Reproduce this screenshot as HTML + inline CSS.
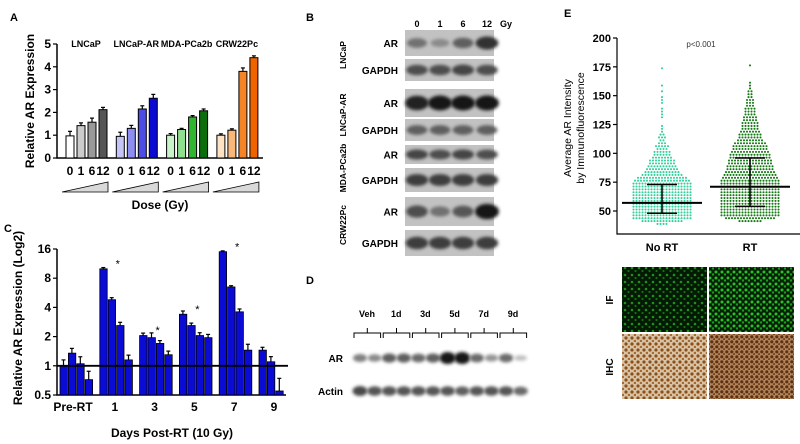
<!DOCTYPE html>
<html><head><meta charset="utf-8"><style>
html,body{margin:0;padding:0;background:#fff;}
svg{display:block;font-family:"Liberation Sans",Arial,sans-serif;}
</style></head><body>
<svg id="fig" width="800" height="444" viewBox="0 0 800 444" xmlns="http://www.w3.org/2000/svg">
<defs>
<filter id="blur1" x="-20%" y="-50%" width="140%" height="200%"><feGaussianBlur stdDeviation="1.6"/></filter>
<pattern id="ifA" width="7" height="7" patternUnits="userSpaceOnUse"><rect width="7" height="7" fill="#051a05"/><circle cx="2" cy="2" r="1.3" fill="#1f8f1f"/><circle cx="5.5" cy="5" r="1.1" fill="#157015"/></pattern>
<pattern id="ifB" width="6" height="6" patternUnits="userSpaceOnUse"><rect width="6" height="6" fill="#062006"/><circle cx="2" cy="2" r="1.5" fill="#2bbf2b"/><circle cx="5" cy="4.5" r="1.2" fill="#1e9a1e"/></pattern>
<pattern id="ihcA" width="6" height="6" patternUnits="userSpaceOnUse"><rect width="6" height="6" fill="#d9c3a5"/><circle cx="2" cy="2" r="1.6" fill="#8a4f1e"/><circle cx="5" cy="5" r="1.3" fill="#a8692f"/></pattern>
<pattern id="ihcB" width="5" height="5" patternUnits="userSpaceOnUse"><rect width="5" height="5" fill="#b08660"/><circle cx="1.8" cy="1.8" r="1.6" fill="#5e3010"/><circle cx="4.2" cy="4.2" r="1.2" fill="#7a4316"/></pattern>
</defs>
<g id="pA"></g>
<g id="pB"></g>
<g id="pC"></g>
<g id="pD"></g>
<g id="pE"></g>
</svg>
<script>
// ---------- Panel A data ----------
const aGroups = ["LNCaP","LNCaP-AR","MDA-PCa2b","CRW22Pc"];
const aDoses = ["0","1","6","12"];
const aLNCaP = [0.97,1.42,1.57,2.12];
const aLNCaPAR = [0.95,1.3,2.15,2.62];
const aMDA = [1.0,1.25,1.8,2.07];
const aCRW = [1.0,1.22,3.8,4.4];
const aErr = [[0.2,0.12,0.18,0.1],[0.18,0.13,0.14,0.17],[0.07,0.05,0.06,0.08],[0.06,0.06,0.15,0.08]];
const aTicks = [0,1,2,3,4,5];
// ---------- Panel C data ----------
const cGroups = ["Pre-RT","1","3","5","7","9"];
const cVals = [[1,1.35,1.05,0.72],[10,4.8,2.6,1.15],[2.05,1.95,1.7,1.3],[3.4,2.6,2.05,1.95],[15,6.5,3.6,1.45],[1.45,1.1,0.55]];
const cErr = [[0.15,0.12,0.18,0.22],[0.03,0.05,0.08,0.12],[0.06,0.12,0.07,0.09],[0.08,0.06,0.07,0.08],[0.02,0.03,0.07,0.15],[0.07,0.13,0.35]];
const cStar = [false,true,true,true,true,false];
const cTicks = [0.5,1,2,4,8,16];
// ---------- Panel E data (histogram counts in 2.5-unit bins from 37.5) ----------
const eGroups = ["No RT","RT"];
const eNoRT = [4,14,20,20,20,20,20,20,20,20,20,20,20,20,20,19,17,14,12,11,10,9,9,7,6,6,4,5,3,2,3,2,1,1,1,0,0,1,1,1,1,0,1,1,1,0,1,0,1,0,0,0,0,0,1];
const eRT = [0,8,17,20,20,20,20,20,20,20,20,20,20,20,20,20,19,18,17,16,16,15,15,14,14,13,12,12,11,9,8,8,7,6,6,6,5,5,4,4,4,3,3,3,2,2,2,1,1,1,0,0,0,0,0,1];
const eMean = [57,71];
const eSD = [[48,73],[54,96]];
const eTicks = [50,75,100,125,150,175,200];
// ---------- Blot band intensities ----------
const bRows = ["AR","GAPDH","AR","GAPDH","AR","GAPDH","AR","GAPDH"];
const bCells = ["LNCaP","LNCaP-AR","MDA-PCa2b","CRW22Pc"];
const bBands = [[0.5,0.35,0.6,0.85],[0.7,0.7,0.75,0.7],[0.95,1,1,1],[0.6,0.6,0.6,0.6],[0.75,0.7,0.75,0.7],[0.8,0.8,0.8,0.8],[0.7,0.5,0.65,1],[0.8,0.8,0.8,0.8]];
const dLabels = ["Veh","1d","3d","5d","7d","9d"];
const dAR = [0.5,0.45,0.65,0.65,0.6,0.65,1,1,0.6,0.4,0.6,0.2];
const dActin = [0.75,0.7,0.7,0.7,0.7,0.7,0.7,0.65,0.7,0.7,0.7,0.6];

const NS="http://www.w3.org/2000/svg";
function mk(parent,tag,attrs,txt){const e=document.createElementNS(NS,tag);for(const k in attrs)e.setAttribute(k,attrs[k]);if(txt!==undefined)e.textContent=txt;parent.appendChild(e);return e;}

// ================= PANEL A =================
(function(){
const g=document.getElementById('pA');
const yA=v=>158-v*22.8, x0=57;
let t=mk(g,'text',{x:10,y:21,'font-size':11,'font-weight':'bold'},'A');


let ax=mk(g,'path',{d:`M${x0} ${yA(5)}V158H263`,stroke:'#000','stroke-width':1.5,fill:'none'});


aTicks.forEach(v=>{
 mk(g,'line',{x1:x0-4,x2:x0,y1:yA(v),y2:yA(v),stroke:'#000','stroke-width':1.2});
 let l=mk(g,'text',{x:x0-6,y:yA(v)+4,'font-size':12,'font-weight':'bold','text-anchor':'end'},v);
 
 
});
let yt=mk(g,'text',{transform:'translate(34,101) rotate(-90)','font-size':12,'font-weight':'bold','text-anchor':'middle'},'Relative AR Expression');


const series=[aLNCaP,aLNCaPAR,aMDA,aCRW];
const cols=[["#ffffff","#cccccc","#999999","#555555"],["#c4c4f6","#8e8ef2","#4d4de6","#0a0ad2"],["#c9f3c9","#8ee08e","#2fb52f","#0b6e0b"],["#fde2c4","#f8b87a","#f48426","#f06400"]];
series.forEach((vals,gi)=>{
 const gx=66+gi*50.3;
 let gl=mk(g,'text',{x:gx+20,y:47,'font-size':9,'font-weight':'bold','text-anchor':'middle'},aGroups[gi]);
 
 
 vals.forEach((v,i)=>{
  const bx=gx+i*11, e=aErr[gi][i];
  mk(g,'line',{x1:bx+4,x2:bx+4,y1:yA(v),y2:yA(v+e),stroke:'#000','stroke-width':1.2});
  mk(g,'line',{x1:bx+2,x2:bx+6,y1:yA(v+e),y2:yA(v+e),stroke:'#000','stroke-width':1.2});
  let r=mk(g,'rect',{x:bx,y:yA(v),width:8,height:158-yA(v),fill:cols[gi][i],stroke:'#000','stroke-width':1});
  
  
  let dl=mk(g,'text',{x:bx+4,y:175,'font-size':12,'font-weight':'bold','text-anchor':'middle'},aDoses[i]);
  
  
 });
 let tri=mk(g,'path',{d:`M${gx-4} 192L${gx+42} 182V192Z`,fill:'#d9d9d9',stroke:'#000','stroke-width':0.8});
 
 
});
let xt=mk(g,'text',{x:160,y:209,'font-size':12,'font-weight':'bold','text-anchor':'middle'},'Dose (Gy)');


})();

// ================= PANEL C =================
(function(){
const g=document.getElementById('pC');
const yC=v=>395-(Math.log2(v)+1)*29.2, x0=57;
let t=mk(g,'text',{x:4,y:232,'font-size':11,'font-weight':'bold'},'C');


let ax=mk(g,'path',{d:`M${x0} ${yC(16)}V395H286`,stroke:'#000','stroke-width':1.5,fill:'none'});


cTicks.forEach(v=>{
 mk(g,'line',{x1:x0-4,x2:x0,y1:yC(v),y2:yC(v),stroke:'#000','stroke-width':1.2});
 let l=mk(g,'text',{x:x0-6,y:yC(v)+4,'font-size':12,'font-weight':'bold','text-anchor':'end'},v);
 
 
});
let yt=mk(g,'text',{transform:'translate(22,318) rotate(-90)','font-size':12,'font-weight':'bold','text-anchor':'middle'},'Relative AR Expression (Log2)');


cVals.forEach((vals,gi)=>{
 const gx=60+gi*39.8;
 vals.forEach((v,i)=>{
  const bx=gx+i*8.4, top=yC(v*(1+cErr[gi][i]));
  mk(g,'line',{x1:bx+3.5,x2:bx+3.5,y1:yC(v),y2:top,stroke:'#000','stroke-width':1.2});
  mk(g,'line',{x1:bx+1.5,x2:bx+5.5,y1:top,y2:top,stroke:'#000','stroke-width':1.2});
  let r=mk(g,'rect',{x:bx,y:yC(v),width:7.4,height:395-yC(v),fill:'#0b0bd6',stroke:'#000','stroke-width':0.8});
  
  
 });
 let gl=mk(g,'text',{x:gi===0?73:gx+15,y:411,'font-size':12,'font-weight':'bold','text-anchor':'middle'},cGroups[gi]);
 
 
 if(cStar[gi]){
  const mx=Math.max(...vals);
  let s=mk(g,'text',{x:gx+18,y:Math.min(yC(mx*1.25),yC(vals[1]*1.3))+8,'font-size':11,'text-anchor':'middle'},'*');
  
  
 }
});
let rl=mk(g,'line',{x1:x0,x2:288,y1:yC(1),y2:yC(1),stroke:'#000','stroke-width':1.8});


let xt=mk(g,'text',{x:172,y:437,'font-size':12,'font-weight':'bold','text-anchor':'middle'},'Days Post-RT (10 Gy)');


})();

// ================= PANEL B =================
(function(){
const g=document.getElementById('pB');
let t=mk(g,'text',{x:306,y:21,'font-size':11,'font-weight':'bold'},'B');


const lanes=[417,440,463,487];
["0","1","6","12","Gy"].forEach((s,i)=>{
 let l=mk(g,'text',{x:i<4?lanes[i]:506,y:27,'font-size':9,'font-weight':'bold','text-anchor':'middle'},s);
 
 
});
const rows=[[30,56],[59,81],[89,117],[119,141],[145,164],[168,192],[197,226],[230,256]];
rows.forEach((r,ri)=>{
 const h=r[1]-r[0], cy=(r[0]+r[1])/2;
 let bg=mk(g,'rect',{x:405,y:r[0],width:89,height:h,fill:'#c2c2c2'});
 
 
 bBands[ri].forEach((v,i)=>{
  const c=Math.round(200-175*v);
  let e=mk(g,'ellipse',{cx:lanes[i],cy:cy,rx:8+4*v,ry:2.5+5*v*(h/28),fill:`rgb(${c},${c},${c})`,filter:'url(#blur1)'});
  
  
 });
 let l=mk(g,'text',{x:398,y:cy+4,'font-size':10,'font-weight':'bold','text-anchor':'end'},bRows[ri]);
 
 
});
[55,115,168,225].forEach((cy,i)=>{
 let l=mk(g,'text',{transform:`translate(346,${cy}) rotate(-90)`,'font-size':8.5,'font-weight':'bold','text-anchor':'middle'},bCells[i]);
 
 
});
})();

// ================= PANEL D =================
(function(){
const g=document.getElementById('pD');
let t=mk(g,'text',{x:306,y:284,'font-size':11,'font-weight':'bold'},'D');


const lx=i=>360+i*14.6;
dLabels.forEach((s,i)=>{
 let l=mk(g,'text',{x:lx(2*i)+7,y:317,'font-size':9,'font-weight':'bold','text-anchor':'middle'},s);
 
 
 const a=lx(2*i)-6, b=lx(2*i+1)+6, m=(a+b)/2;
 let br=mk(g,'path',{d:`M${a} 338V333H${b}V338M${m} 333V328`,stroke:'#000','stroke-width':1,fill:'none'});
 
 
});
[[dAR,358,'AR'],[dActin,391,'Actin']].forEach(([arr,cy,lab])=>{
 arr.forEach((v,i)=>{
  const c=Math.round(235-215*v);
  let e=mk(g,'ellipse',{cx:lx(i),cy:cy,rx:6+2*v,ry:2+4*v,fill:`rgb(${c},${c},${c})`,filter:'url(#blur1)'});
  
  
 });
 let l=mk(g,'text',{x:343,y:cy+4,'font-size':10,'font-weight':'bold','text-anchor':'end'},lab);
 
 
});
})();

// ================= PANEL E =================
(function(){
const g=document.getElementById('pE');
const yE=v=>211-(v-50)*1.1533, x0=617;
let t=mk(g,'text',{x:564,y:17,'font-size':11,'font-weight':'bold'},'E');


let ax=mk(g,'path',{d:`M${x0} ${yE(200)}V234H800`,stroke:'#000','stroke-width':1.2,fill:'none'});


eTicks.forEach(v=>{
 mk(g,'line',{x1:x0-4,x2:x0,y1:yE(v),y2:yE(v),stroke:'#000','stroke-width':1.2});
 let l=mk(g,'text',{x:x0-6,y:yE(v)+4,'font-size':11,'font-weight':'bold','text-anchor':'end'},v);
 
 
});
let y1=mk(g,'text',{transform:'translate(571,128) rotate(-90)','font-size':10.5,'text-anchor':'middle'},'Average AR Intensity');


let y2=mk(g,'text',{transform:'translate(584,128) rotate(-90)','font-size':10.5,'text-anchor':'middle'},'by Immunofluorescence');


let p=mk(g,'text',{x:701,y:47,'font-size':8,fill:'#333','text-anchor':'middle'},'p<0.001');


const centers=[662,750], colors=['#35d09a','#177a17'];
[eNoRT,eRT].forEach((counts,gi)=>{
 counts.forEach((n,bi)=>{
  const v=37.5+bi*2.5+1.25;
  for(let k=0;k<n;k++){
   let c=mk(g,'circle',{cx:centers[gi]+(k-(n-1)/2)*3,cy:yE(v),r:1.05,fill:colors[gi]});
   
   
  }
 });
 const cx=centers[gi];
 let m=mk(g,'line',{x1:cx-40,x2:cx+40,y1:yE(eMean[gi]),y2:yE(eMean[gi]),stroke:'#000','stroke-width':2});
 
 
 let sd=mk(g,'path',{d:`M${cx} ${yE(eSD[gi][0])}V${yE(eSD[gi][1])}M${cx-15} ${yE(eSD[gi][0])}H${cx+15}M${cx-15} ${yE(eSD[gi][1])}H${cx+15}`,stroke:'#000','stroke-width':1.5,fill:'none'});
 
 
 let l=mk(g,'text',{x:cx,y:251,'font-size':11,'font-weight':'bold','text-anchor':'middle'},eGroups[gi]);
 
 
});
[['url(#ifA)',622,267],['url(#ifB)',709,267],['url(#ihcA)',622,334],['url(#ihcB)',709,334]].forEach(([f,x,y])=>{
 let r=mk(g,'rect',{x:x,y:y,width:85,height:65,fill:f});
 
 
});
[['IF',300],['IHC',367]].forEach(([s,cy])=>{
 let l=mk(g,'text',{transform:`translate(613,${cy}) rotate(-90)`,'font-size':10,'font-weight':'bold','text-anchor':'middle'},s);
 
 
});
})();
</script>
</body></html>
